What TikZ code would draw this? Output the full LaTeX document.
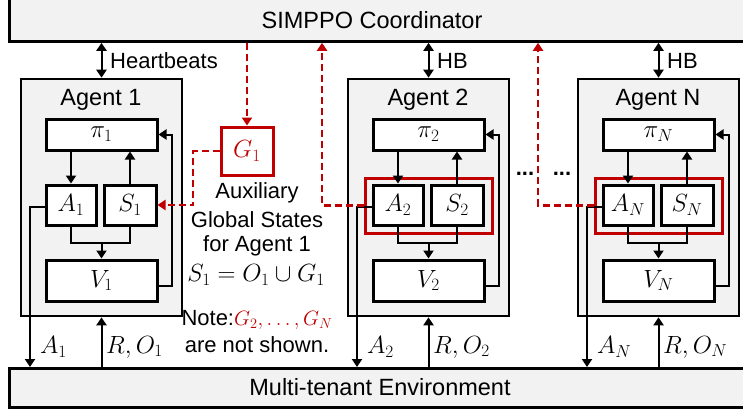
\documentclass[tikz,border=0pt]{standalone}
\usepackage{fontspec}
\setmainfont{Liberation Sans}
\usetikzlibrary{arrows.meta,calc}
\definecolor{dred}{HTML}{C00000}
\definecolor{lgray}{HTML}{F2F2F2}
\DeclareMathSizes{25}{25}{19}{14}
\newcommand{\mathsz}{\fontsize{25}{29}\selectfont}
\newcommand{\titlesz}{\fontsize{23.5}{28}\selectfont}
\newcommand{\textsz}{\fontsize{22}{26}\selectfont}
\begin{document}
\begin{tikzpicture}[x=1pt,y=-1pt,
  arr/.style={line width=2pt,-{Triangle[length=8pt,width=10pt]}},
  darr/.style={line width=2pt,{Triangle[length=8pt,width=10pt]}-{Triangle[length=8pt,width=10pt]}},
  ln/.style={line width=2pt},
  rdarr/.style={draw=dred,line width=2.5pt,dash pattern=on 7pt off 4pt,-{Triangle[length=8pt,width=10pt]}},
  bigbox/.style={draw,fill=lgray,line width=2.8pt,inner sep=0pt},
  abox/.style={draw,fill=lgray,line width=2.6pt,inner sep=0pt},
  ibox/.style={draw,fill=white,line width=3pt,inner sep=0pt,font=\mathsz},
  rbox/.style={draw=dred,line width=3pt,inner sep=0pt},
  gbox/.style={draw=dred,fill=white,line width=3pt,inner sep=0pt,font=\mathsz,text=dred},
  title/.style={font=\titlesz,inner sep=0pt},
  txt/.style={font=\textsz,inner sep=0pt},
  mlab/.style={font=\mathsz,inner sep=0pt,anchor=west}]
\clip (0,0) rectangle (743,408);
\useasboundingbox (0,0) rectangle (743,408);
% coordinator and environment
\node[bigbox,anchor=north west,minimum width=790,minimum height=60] (coord) at (8,-20) {};
\node[title] (coordtxt) at (372,20) {SIMPPO Coordinator};
\node[bigbox,anchor=north west,minimum width=790,minimum height=39] (env) at (8,367) {};
\node[title] (envtxt) at (380,387) {Multi-tenant Environment};
% agents
\foreach \o/\n/\hb/\rb in {0/1/Heartbeats/0, 327/2/HB/1, 557/N/HB/1} {
  \begin{scope}[shift={(\o,0)}]
    \node[abox,minimum width=161,minimum height=237] (agent\n) at (101.5,197.5) {};
    \node[title] (agt\n) at (101,100) {Agent \n};
    \ifnum\rb=1
      \node[rbox,minimum width=127,minimum height=55] (rb\n) at (101.5,205.5) {};
    \fi
    \node[ibox,minimum width=111,minimum height=31] (pi\n) at (101.5,134.5) {$\pi_{\n}$};
    \node[ibox,minimum width=50,minimum height=40] (a\n) at (71,205) {$A_{\n}$};
    \node[ibox,minimum width=52,minimum height=40] (s\n) at (130,205) {$S_{\n}$};
    \node[ibox,minimum width=111,minimum height=41] (v\n) at (101.5,280.5) {$V_{\n}$};
    \coordinate (m\n) at (101.5,243);
    \coordinate (fb\n) at (172,0);
    \coordinate (al\n) at (30,0);
    % internal connectors
    \draw[arr] (pi\n.south -| a\n.north) -- (a\n.north);
    \draw[arr] (s\n.north) -- (s\n.north |- pi\n.south);
    \draw[ln] (a\n.south) -- (a\n.south |- m\n) -| (s\n.south);
    \draw[arr] (m\n) -- (v\n.north);
    \draw[arr] ([yshift=-5.5pt]v\n.east) -| (fb\n |- pi\n.east) -- (pi\n.east);
    % external connectors
    \draw[arr] ([yshift=-2pt]a\n.west) -| (al\n |- env.north);
    \draw[arr] (agent\n.south |- env.north) -- (agent\n.south);
    \draw[darr] (agent\n.north) -- (agent\n.north |- coord.south);
    \node[txt,anchor=west] (hb\n) at (110,61) {\hb};
    \node[mlab] (alab\n) at (40,347) {$A_{\n}$};
    \node[mlab] (rlab\n) at (106,347) {$R,O_{\n}$};
  \end{scope}
}
% G1 and red dashed connectors
\node[gbox,minimum width=52,minimum height=48] (g1) at (247,151) {$G_1$};
\draw[rdarr] (coord.south -| g1.north) -- (g1.north);
\coordinate (gx) at (193,0);
\draw[rdarr] (g1.west) -| (gx |- s1.east) -- (s1.east);
\coordinate (up2) at (322,0);
\coordinate (upN) at (538,0);
\draw[rdarr] (rb2.west) -| (up2 |- coord.south);
\draw[rdarr] (rbN.west) -| (upN |- coord.south);
% dots
\node[txt,font=\textsz\bfseries] (dots1) at (525,174) {...};
\node[txt,font=\textsz\bfseries] (dots2) at (562,174) {...};
% text column
\node[txt] (t1) at (257,193) {Auxiliary};
\node[txt] (t2) at (257,220) {Global States};
\node[txt] (t3) at (257,246) {for Agent 1};
\node[txt,font=\mathsz] (t4) at (256,275) {$S_1=O_1\cup G_1$};
\node[txt] (t5) at (257,320) {Note:\textcolor{dred}{$G_2,\ldots,G_N$}};
\node[txt] (t6) at (257,345) {are not shown.};
\end{tikzpicture}
\end{document}
